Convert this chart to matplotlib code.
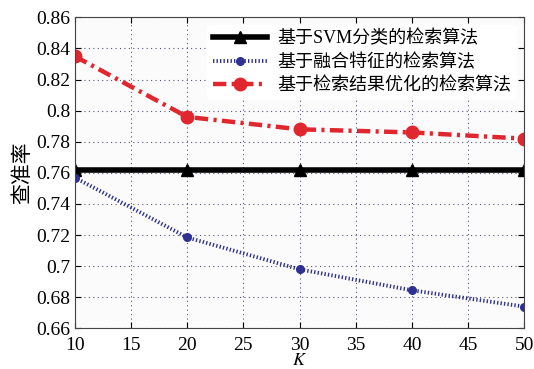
import numpy as np
import matplotlib.pyplot as plt

plt.rcParams['font.family'] = ['Liberation Serif', 'Noto Sans CJK SC']
plt.rcParams['mathtext.fontset'] = 'stix'

# Dane
k = [10, 20, 30, 40, 50]
svm = [0.762, 0.762, 0.762, 0.762, 0.762]
fusion = [0.757, 0.7185, 0.698, 0.6845, 0.674]
optim = [0.835, 0.796, 0.788, 0.786, 0.782]
labels = ['基于SVM分类的检索算法', '基于融合特征的检索算法', '基于检索结果优化的检索算法']

fig = plt.figure(figsize=(5.34, 3.69), dpi=100)
ax = fig.add_axes([0.14, 0.11, 0.842, 0.843])
ax.set_facecolor('#fbfbfb')

ax.plot(k, svm, color='black', linewidth=4, marker='^', markersize=8, label=labels[0])
ax.plot(k, fusion, color='#2e3192', linewidth=2.8, linestyle=(0, (0.35, 0.55)),
        marker='o', markersize=5.5, label=labels[1])
ax.plot(k, optim, color='#e0262e', linewidth=3.2, linestyle=(0, (3, 1.2, 0.7, 1.2)),
        marker='o', markersize=9, label=labels[2])

ax.set_xlim(10, 50)
ax.set_ylim(0.66, 0.86)
ax.set_xticks(range(10, 51, 5))
ax.set_yticks(np.arange(0.66, 0.861, 0.02))
ax.set_yticklabels(['0.66', '0.68', '0.7', '0.72', '0.74', '0.76', '0.78', '0.8', '0.82', '0.84', '0.86'])
ax.tick_params(direction='in', top=True, right=True, labelsize=14, length=4)
ax.tick_params(axis='x', pad=6)
ax.tick_params(axis='y', pad=3)
ax.grid(True, linestyle=(0, (1, 3)), color='#555577', linewidth=0.8)
for s in ax.spines.values():
    s.set_color('#444444')

ax.set_xlabel('$K$', fontsize=13, labelpad=-1)
ax.set_ylabel('查准率', fontsize=15, labelpad=2)

leg = ax.legend(loc='upper right', fontsize=13, frameon=True, handlelength=3,
                borderpad=0.3, labelspacing=0.35, borderaxespad=0.4, handletextpad=0.6)
leg.get_frame().set_edgecolor('none')
leg.get_frame().set_facecolor('white')
leg.get_frame().set_alpha(1)

fig.savefig('out.png', dpi=100)
